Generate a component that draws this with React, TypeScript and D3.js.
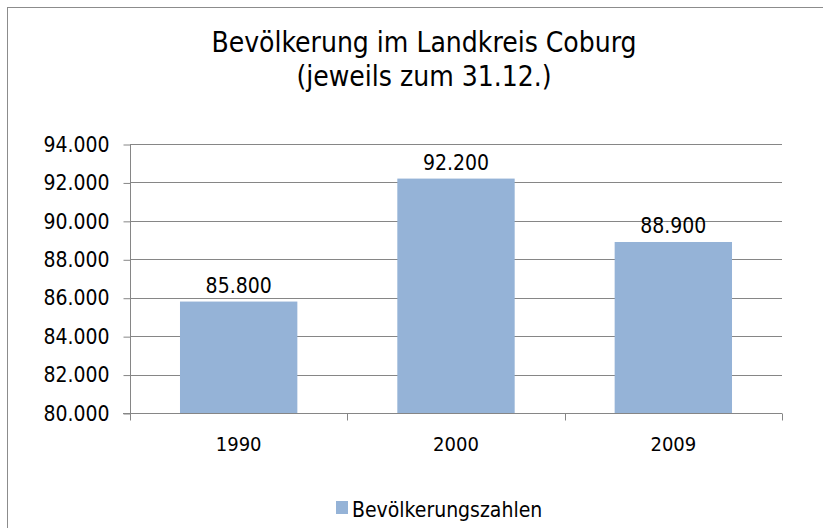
import React, { useEffect, useRef } from "react";
import * as d3 from "d3";

// Data
const years = ["1990", "2000", "2009"];
const population = [85800, 92200, 88900];
const yTicks = [80000, 82000, 84000, 86000, 88000, 90000, 92000, 94000];
const titleLines = ["Bevölkerung im Landkreis Coburg", "(jeweils zum 31.12.)"];
const seriesName = "Bevölkerungszahlen";

const FONT = "'DejaVu Sans Condensed', 'DejaVu Sans', sans-serif";

const App = () => {
  const ref = useRef<SVGSVGElement>(null);

  useEffect(() => {
    const width = 823;
    const height = 528;
    const svg = d3.select(ref.current).attr("width", width).attr("height", height);
    svg.selectAll("*").remove(); // Clear previous content

    const de = d3.formatLocale({
      decimal: ",",
      thousands: ".",
      grouping: [3],
      currency: ["", " €"],
    });
    const fmt = de.format(",d");

    const plot = { left: 130, right: 782, top: 144, bottom: 413 };
    const axisColor = "#868686";

    // chart frame
    svg
      .append("rect")
      .attr("x", 7.5)
      .attr("y", 7.5)
      .attr("width", 840)
      .attr("height", 540)
      .attr("fill", "#ffffff")
      .attr("stroke", "#8c8c8c")
      .attr("stroke-width", 1);

    const x = d3
      .scaleBand()
      .domain(years)
      .range([plot.left, plot.right])
      .paddingInner(0.46)
      .paddingOuter(0.23);

    const y = d3
      .scaleLinear()
      .domain([d3.min(yTicks) as number, d3.max(yTicks) as number])
      .range([plot.bottom, plot.top]);

    // Title
    const title = svg
      .append("text")
      .attr("text-anchor", "middle")
      .style("font-family", FONT)
      .style("font-stretch", "condensed")
      .style("font-size", "28px")
      .style("fill", "#000");
    titleLines.forEach((line, i) => {
      title
        .append("tspan")
        .attr("x", 424)
        .attr("y", 52 + i * 34)
        .text(line);
    });

    // Gridlines
    svg
      .append("g")
      .selectAll("line")
      .data(yTicks.filter((t) => t !== yTicks[0]))
      .join("line")
      .attr("x1", plot.left)
      .attr("x2", plot.right)
      .attr("y1", (d) => Math.round(y(d)) + 0.5)
      .attr("y2", (d) => Math.round(y(d)) + 0.5)
      .style("stroke", axisColor);

    // Y axis
    const yAxis = svg
      .append("g")
      .attr("transform", `translate(${plot.left + 0.5},0.5)`)
      .call(
        d3
          .axisLeft(y)
          .tickValues(yTicks)
          .tickSize(7)
          .tickPadding(14)
          .tickFormat((d) => fmt(d as number)),
      );
    yAxis.select(".domain").attr("stroke", axisColor).attr("d", `M0,${plot.top}V${plot.bottom}`);
    yAxis.selectAll(".tick line").attr("stroke", axisColor);
    yAxis
      .selectAll(".tick text")
      .style("font-family", FONT)
      .style("font-stretch", "condensed")
      .style("font-size", "21px")
      .style("fill", "#000");

    // Bars
    svg
      .append("g")
      .selectAll("rect")
      .data(population)
      .join("rect")
      .attr("x", (d, i) => x(years[i]) as number)
      .attr("y", (d) => y(d))
      .attr("width", x.bandwidth())
      .attr("height", (d) => plot.bottom - y(d))
      .style("fill", "#95b3d7");

    // Value labels
    svg
      .append("g")
      .selectAll("text")
      .data(population)
      .join("text")
      .attr("x", (d, i) => (x(years[i]) as number) + x.bandwidth() / 2)
      .attr("y", (d) => y(d) - 9)
      .attr("text-anchor", "middle")
      .text((d) => fmt(d))
      .style("font-family", FONT)
      .style("font-stretch", "condensed")
      .style("font-size", "21px")
      .style("fill", "#000");

    // X axis with ticks between categories
    const xAxisG = svg.append("g").attr("transform", `translate(0,${plot.bottom + 0.5})`);
    xAxisG
      .append("line")
      .attr("x1", plot.left - 7)
      .attr("x2", plot.right)
      .style("stroke", axisColor);
    const step = x.step();
    const boundaries = d3.range(years.length + 1).map((i) => plot.left + i * step);
    xAxisG
      .selectAll("line.tick")
      .data(boundaries)
      .join("line")
      .attr("class", "tick")
      .attr("x1", (d) => Math.round(d) + 0.5)
      .attr("x2", (d) => Math.round(d) + 0.5)
      .attr("y1", 0)
      .attr("y2", 7)
      .style("stroke", axisColor);
    xAxisG
      .selectAll("text")
      .data(years)
      .join("text")
      .attr("x", (d) => (x(d) as number) + x.bandwidth() / 2)
      .attr("y", 37)
      .attr("text-anchor", "middle")
      .text((d) => d)
      .style("font-family", FONT)
      .style("font-stretch", "condensed")
      .style("font-size", "20px")
      .style("fill", "#000");

    // Legend
    const legend = svg.append("g").attr("transform", "translate(336,501)");
    legend
      .append("rect")
      .attr("width", 12)
      .attr("height", 13)
      .style("fill", "#95b3d7");
    legend
      .append("text")
      .attr("x", 16)
      .attr("y", 16)
      .text(seriesName)
      .style("font-family", FONT)
      .style("font-stretch", "condensed")
      .style("font-size", "21px")
      .style("fill", "#000");
  }, []);

  return (
    <svg
      ref={ref}
      style={{ position: "absolute", left: 0, top: 0, display: "block" }}
    ></svg>
  );
};

export default App;
